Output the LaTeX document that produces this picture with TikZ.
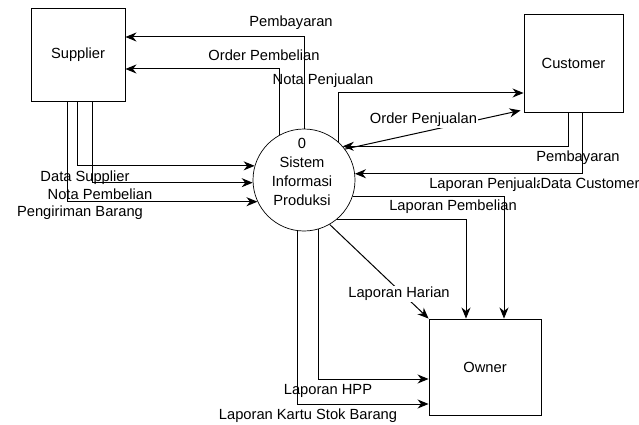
\documentclass[tikz,border=0pt]{standalone}
\usepackage{fontspec}
\setmainfont{Liberation Sans}
\usetikzlibrary{arrows.meta}
\newcommand\lbfont{\fontsize{14.7}{17}\selectfont}
\tikzset{
  box/.style={draw, line width=0.9pt, inner sep=0pt, font=\lbfont},
  proc/.style={draw, circle, line width=0.7pt, minimum size=102pt, inner sep=0pt},
  flow/.style={line width=1pt, -{Stealth[length=11pt,width=9pt,inset=3.5pt]}},
  lbl/.style={font=\lbfont, inner sep=1pt, text height=10.5pt, text depth=3pt},
  lblw/.style={lbl, fill=white}
}
\begin{document}
\begin{tikzpicture}[x=1pt,y=-1pt]
\useasboundingbox[fill=white] (0,0) rectangle (639,425);
% entities and process
\node[box, minimum width=94pt, minimum height=93pt] (sup) at (78,54.5) {Supplier};
\node[box, minimum width=99pt, minimum height=98pt] (cust) at (573.5,63) {Customer};
\node[box, minimum width=112pt, minimum height=96pt] (own) at (485,367) {Owner};
\node[proc] (sys) at (304,180) {};
\node[align=center, inner sep=0pt, font=\fontsize{14.7}{19}\selectfont] (systxt) at (302,171.5) {0\\Sistem\\Informasi\\Produksi};
% labels under the lines
\node[lbl] (l1) at (291,23) {Pembayaran};
\node[lbl] (l2) at (264,57) {Order Pembelian};
\node[lbl] (l3) at (323,81) {Nota Penjualan};
\node[lbl] (l5) at (578,158) {Pembayaran};
\node[lbl] (l6) at (491,185) {Laporan Penjualan};
\node[lbl] (l8) at (453,207) {Laporan Pembelian};
\node[lbl] (l10) at (328,391) {Laporan HPP};
\node[lbl] (l11) at (308,416) {Laporan Kartu Stok Barang};
\node[lbl] (l12) at (85,178) {Data Supplier};
\node[lbl] (l13) at (100,196) {Nota Pembelian};
\node[lbl] (l14) at (80,213) {Pengiriman Barang};
% flows
\draw[flow] (sys.north) |- ([yshift=17.5pt]sup.east);
\draw[flow] (sys.118) |- ([yshift=-14.5pt]sup.east);
\draw[flow] (sys.48) |- ([yshift=-30pt]cust.west);
\draw[flow] (sys.37) -- ([xshift=-3pt,yshift=2pt]cust.south west);
\draw[flow] ([xshift=-5.5pt]cust.south) |- (sys.41.8);
\draw[flow] ([xshift=8.5pt]cust.south) |- (sys.7.9);
\draw[flow] (sys.-19.5) -| ([xshift=19pt]own.north);
\draw[flow] (sys.-50) -| ([xshift=-19pt]own.north);
\draw[flow] (sys.-60) -- (own.north west);
\draw[flow] (sys.-74) |- ([yshift=-12pt]own.west);
\draw[flow] (sys.-97) |- ([yshift=-37pt]own.west);
\draw[flow] ([xshift=-1pt]sup.south) |- (sys.164.1);
\draw[flow] ([xshift=14pt]sup.south) |- (sys.183.4);
\draw[flow] ([xshift=-11pt]sup.south) |- (sys.205.6);
% labels over the lines
\node[lblw] (l4) at (423.5,120) {Order Penjualan};
\node[lblw] (l7) at (590,185) {Data Customer};
\node[lblw] (l9) at (399,294) {Laporan Harian};
\end{tikzpicture}
\end{document}
